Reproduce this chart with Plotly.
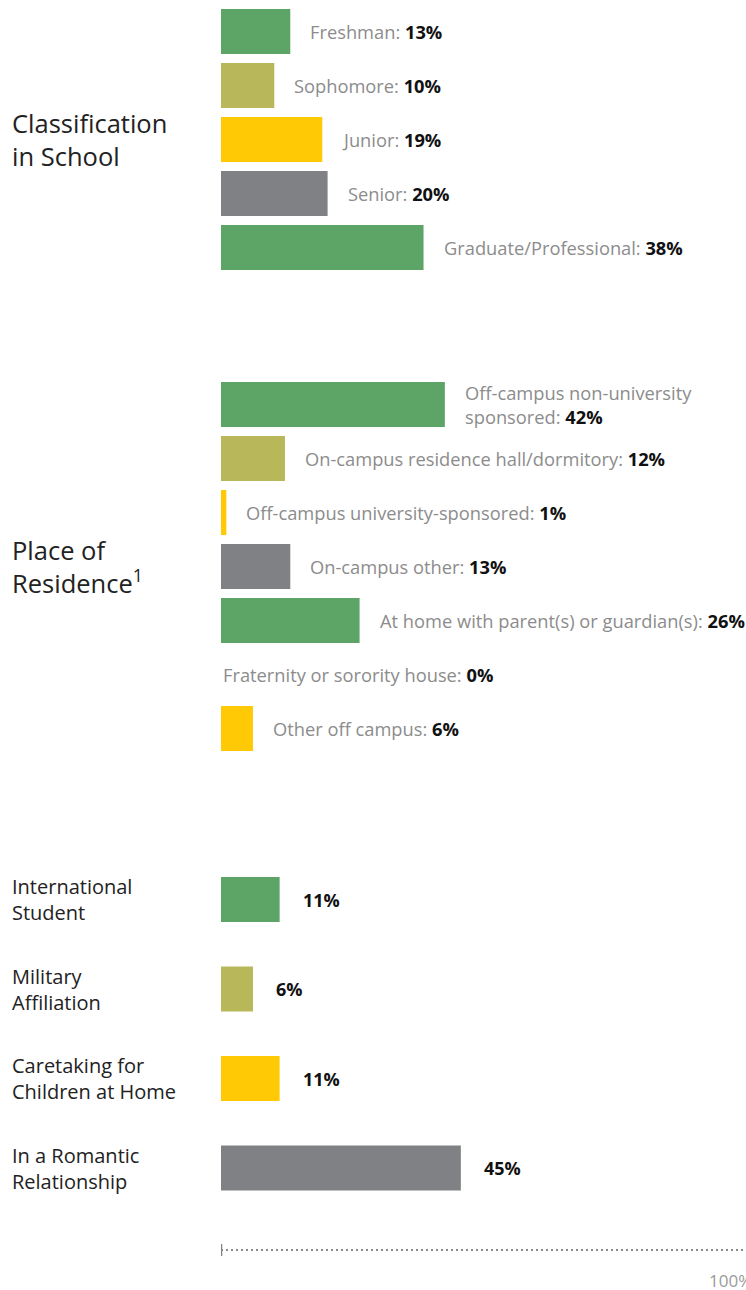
import plotly.graph_objects as go

# ---------------- data ----------------
class_labels = ["Freshman", "Sophomore", "Junior", "Senior", "Graduate/Professional"]
class_values = [13, 10, 19, 20, 38]

res_labels = [
    "Off-campus non-university<br>sponsored",
    "On-campus residence hall/dormitory",
    "Off-campus university-sponsored",
    "On-campus other",
    "At home with parent(s) or guardian(s)",
    "Fraternity or sorority house",
    "Other off campus",
]
res_values = [42, 12, 1, 13, 26, 0, 6]

other_labels = [
    "International<br>Student",
    "Military<br>Affiliation",
    "Caretaking for<br>Children at Home",
    "In a Romantic<br>Relationship",
]
other_values = [11, 6, 11, 45]

group_titles = ["Classification<br>in School", "Place of<br>Residence<sup>1</sup>"]
axis_max_label = "100%"

# ---------------- style ----------------
W, H = 746, 1290
ML = 221
PLOT_W = W - ML
PX_PER_PCT = 5.33
XMAX = PLOT_W / PX_PER_PCT

PALETTE = ["#5DA467", "#B8B85B", "#FFCA05", "#808184"]
LABEL_GRAY = "#8C8C8C"
TITLE_COLOR = "#222222"
FONT = "Open Sans"


def colors_for(n):
    return [PALETTE[i % len(PALETTE)] for i in range(n)]


def dom(top_px, bottom_px):
    return [1 - bottom_px / H, 1 - top_px / H]


fig = go.Figure()

groups = [
    (class_labels, class_values, "y", dom(4.5, 274.5), 45 / 54),
    (res_labels, res_values, "y2", dom(377.5, 755.5), 45 / 54),
    (other_labels, other_values, "y3", dom(854.75, 1212.75), 45 / 89.5),
]

layout_axes = {}
for i, (labels, values, yref, domain, width) in enumerate(groups):
    fig.add_trace(go.Bar(
        x=values, y=labels, orientation="h", yaxis=yref, xaxis="x",
        marker=dict(color=colors_for(len(values)), line=dict(width=0)),
        width=[width] * len(values), showlegend=False, hoverinfo="skip",
    ))
    key = "yaxis" if yref == "y" else "yaxis" + yref[1:]
    layout_axes[key] = dict(
        domain=domain, anchor="x", type="category",
        range=[len(values) - 0.5, -0.5], visible=False, fixedrange=True,
        categoryorder="array", categoryarray=labels,
    )

LEFT_X = (10 - ML) / PLOT_W

annotations = []
# bar labels for first two groups
for labels, values, yref in [(class_labels, class_values, "y"), (res_labels, res_values, "y2")]:
    for lab, v in zip(labels, values):
        annotations.append(dict(
            x=v, y=lab, xref="x", yref=yref, xanchor="left", yanchor="middle",
            xshift=18 if v > 0 else 0, align="left", showarrow=False,
            text=f"<span style='color:{LABEL_GRAY}'>{lab}:</span> <b>{v}%</b>",
            font=dict(family=FONT, size=18.3, color="#111111"),
        ))
# value labels for third group + left category labels
for lab, v in zip(other_labels, other_values):
    annotations.append(dict(
        x=v, y=lab, xref="x", yref="y3", xanchor="left", yanchor="middle",
        xshift=21, showarrow=False, text=f"<b>{v}%</b>",
        font=dict(family=FONT, size=18, color="#111111"),
    ))
    annotations.append(dict(
        x=LEFT_X, y=lab, xref="x domain", yref="y3",
        xanchor="left", yanchor="middle", align="left", showarrow=False,
        text=lab, font=dict(family=FONT, size=20, color=TITLE_COLOR),
    ))
# group titles
for title, yref in zip(group_titles, ["y domain", "y2 domain"]):
    annotations.append(dict(
        x=LEFT_X, y=0.5, xref="x domain", yref=yref,
        xanchor="left", yanchor="middle", align="left", showarrow=False,
        text=title, font=dict(family=FONT, size=25.5, color=TITLE_COLOR),
    ))
# 100% label
annotations.append(dict(
    x=1, y=1 - 1280 / H, xref="paper", yref="paper", xanchor="right",
    yanchor="middle", xshift=8, showarrow=False, text=axis_max_label,
    font=dict(family=FONT, size=17, color="#9A9A9A"),
))

shapes = [
    dict(type="line", xref="x", yref="paper", x0=0, x1=100,
         y0=1 - 1250 / H, y1=1 - 1250 / H,
         line=dict(color="#8A8A8A", width=2, dash="2px,3px")),
    dict(type="line", xref="x", yref="paper", x0=0, x1=0,
         y0=1 - 1256 / H, y1=1 - 1244 / H,
         line=dict(color="#808184", width=2.5)),
]

fig.update_layout(
    width=W, height=H,
    margin=dict(l=ML, r=0, t=0, b=0, pad=0),
    paper_bgcolor="white", plot_bgcolor="white",
    xaxis=dict(range=[0, XMAX], visible=False, fixedrange=True),
    annotations=annotations, shapes=shapes,
    font=dict(family=FONT),
    **layout_axes,
)

fig.write_html("out.html")
